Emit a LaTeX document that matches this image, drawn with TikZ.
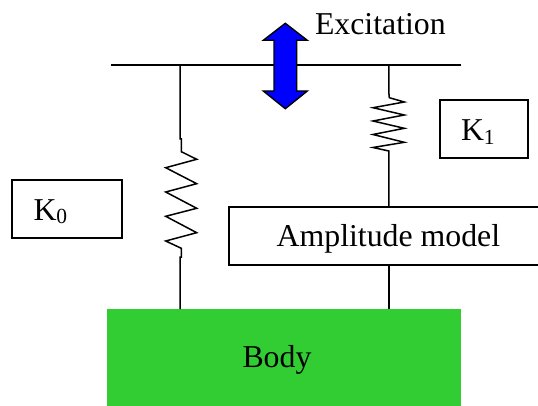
\documentclass[tikz,border=0pt]{standalone}
\usepackage{fontspec}
\setmainfont{Liberation Serif}
\definecolor{bodygreen}{RGB}{50,205,50}
\definecolor{arrowblue}{RGB}{0,0,255}
\newcommand{\lowsub}[1]{\raisebox{-3.5pt}{\fontsize{21.5}{24}\selectfont #1}}
\tikzset{
  wire/.style={draw=black,line width=1.5pt,line join=miter},
  framebox/.style={draw=black,line width=1.4pt,inner sep=0pt,outer sep=0pt,anchor=north west},
  plain/.style={inner sep=0pt,outer sep=0pt,anchor=base west,font=\fontsize{31.8}{36}\selectfont}
}
\begin{document}
\begin{tikzpicture}[x=1pt,y=-1pt]
\useasboundingbox (0,0) rectangle (538,406);
% boxes
\node[framebox,minimum width=110pt,minimum height=58pt] (k0) at (12,180) {};
\node[plain] (k0t) at (33.5,220.5) {K\lowsub{0}};
\node[framebox,minimum width=88pt,minimum height=58pt] (k1) at (440,100) {};
\node[plain] (k1t) at (461,141) {K\lowsub{1}};
\path[clip] (0,0) rectangle (538,406);
\node[framebox,minimum width=320pt,minimum height=58pt] (amp) at (229,207) {};
\node[fill=bodygreen,inner sep=0pt,outer sep=0pt,anchor=north west,minimum width=353.7pt,minimum height=97pt] (body) at (107,309) {};
\node[plain] (ampt) at (276.7,247) {Amplitude model};
\node[plain] (bodyt) at (242.5,367.5) {Body};
\node[plain] (exc) at (315,34.5) {Excitation};
% bar and its anchor points
\coordinate (barL) at (111,65);
\coordinate (barR) at (461,65);
\coordinate (lTop) at (180,65);
\coordinate (rTop) at (388.8,65);
% left spring
\draw[wire] (lTop) -- (180,139) -- (181.3,139) -- (181.3,151.7) -- (196.7,159.3) -- (165.7,167.7) -- (196.7,183.7) -- (165.7,192) -- (196.7,208.3) -- (165.7,216.3) -- (196.7,232.7) -- (165.7,241) -- (181.3,248.3) -- (181.3,257) -- (180,257) -- (lTop |- body.north);
% right spring
\draw[wire] (rTop) -- (388.8,92) -- (389.3,97.7) -- (404.3,102) -- (373,107.7) -- (404.3,115) -- (373,121) -- (404.3,128.3) -- (373,134.5) -- (404.3,142.3) -- (373,147.5) -- (388.8,151) -- (rTop |- amp.north);
\draw[wire] (rTop |- amp.south) -- (rTop |- body.north);
% bar
\draw[wire] (barL) -- (barR);
% arrow
\draw[line width=1.4pt,fill=arrowblue,line join=miter] (285.3,23.3) -- (307.3,40.3) -- (296.7,40.3) -- (296.7,91) -- (307.3,91) -- (285.3,108.7) -- (263.3,91) -- (274,91) -- (274,40.3) -- (263.3,40.3) -- cycle;
\end{tikzpicture}
\end{document}
